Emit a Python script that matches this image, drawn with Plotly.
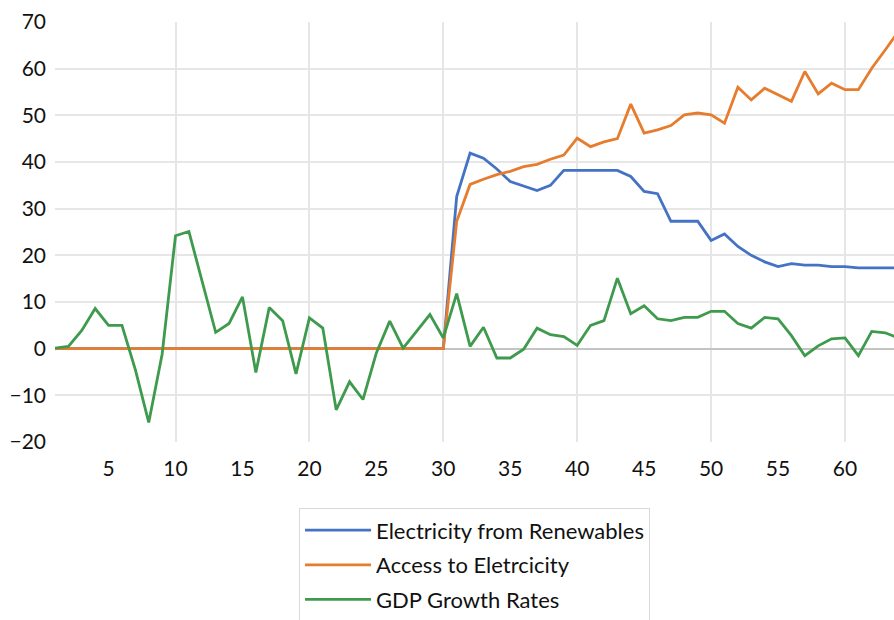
import plotly.graph_objects as go

# Observation index (1..64)
periods = list(range(1, 65))

renewables = [0] * 30 + [
    32.6, 41.9, 40.8, 38.5, 35.8, 34.9, 33.9, 35.0, 38.2, 38.2,
    38.2, 38.2, 38.2, 36.9, 33.7, 33.2, 27.3, 27.3, 27.3, 23.2,
    24.6, 21.9, 20.0, 18.6, 17.6, 18.2, 17.9, 17.9, 17.6, 17.6,
    17.3, 17.3, 17.3, 17.3,
]

access = [0] * 30 + [
    27.3, 35.2, 36.3, 37.3, 38.0, 39.0, 39.5, 40.6, 41.5, 45.1,
    43.3, 44.3, 45.0, 52.4, 46.2, 46.9, 47.8, 50.1, 50.5, 50.1,
    48.3, 56.0, 53.3, 55.8, 54.4, 53.0, 59.4, 54.6, 56.9, 55.5,
    55.5, 60.1, 64.0, 68.0,
]

gdp_growth = [
    0.1, 0.5, 3.9, 8.6, 5.0, 5.0, -4.5, -15.8, -1.2, 24.2,
    25.1, 14.4, 3.5, 5.4, 11.1, -5.1, 8.8, 6.0, -5.4, 6.6,
    4.4, -13.1, -7.1, -10.9, -0.9, 5.9, 0.1, 3.7, 7.3, 2.3,
    11.8, 0.5, 4.6, -2.0, -2.0, -0.1, 4.4, 3.0, 2.6, 0.7,
    5.0, 6.0, 15.1, 7.5, 9.2, 6.4, 6.0, 6.7, 6.7, 8.0,
    8.0, 5.4, 4.4, 6.7, 6.4, 2.8, -1.5, 0.6, 2.1, 2.3,
    -1.5, 3.7, 3.4, 2.3,
]

series = [
    ("Electricity from Renewables", renewables, "#4472C4"),
    ("Access to Eletrcicity", access, "#E67C2E"),
    ("GDP Growth Rates", gdp_growth, "#3E9A4C"),
]

x_ticks = list(range(5, 65, 5))
x_grid = list(range(10, 65, 10))
y_ticks = list(range(-20, 80, 10))
y_grid = [v for v in range(-10, 70, 10) if v != 0]

font_family = "Lato, 'Liberation Sans', sans-serif"

fig = go.Figure()
for name, values, color in series:
    fig.add_trace(go.Scatter(
        x=periods, y=values, name=name, mode="lines",
        legendgroup=name,
        line=dict(color=color, width=2.8),
    ))

fig.update_layout(
    width=894, height=620,
    margin=dict(l=55, r=0, t=22, b=178, autoexpand=False),
    paper_bgcolor="white", plot_bgcolor="white",
    font=dict(family=font_family, size=21, color="#111111"),
    showlegend=True,
    legend=dict(
        xref="container", yref="container",
        x=0.3345, y=0.18, xanchor="left", yanchor="top",
        bordercolor="#d9d9d9", borderwidth=1,
        font=dict(family=font_family, size=22, color="#111111"),
        itemwidth=66,
        tracegroupgap=3,
    ),
)

fig.update_xaxes(
    range=[1, 63.66],
    tickvals=x_ticks, ticks="", showgrid=False,
    ticklabelstandoff=12,
    showline=False, zeroline=False,
    minor=dict(tickvals=x_grid, showgrid=True, gridcolor="#e6e6e6", gridwidth=1.5, ticks=""),
)

fig.update_yaxes(
    range=[-20, 70],
    tickvals=y_ticks, ticks="", showgrid=False,
    ticklabelstandoff=8,
    showline=False,
    zeroline=True, zerolinecolor="#c4c4c4", zerolinewidth=2,
    minor=dict(tickvals=y_grid, showgrid=True, gridcolor="#e6e6e6", gridwidth=1.5, ticks=""),
)

fig.write_html("out.html")
